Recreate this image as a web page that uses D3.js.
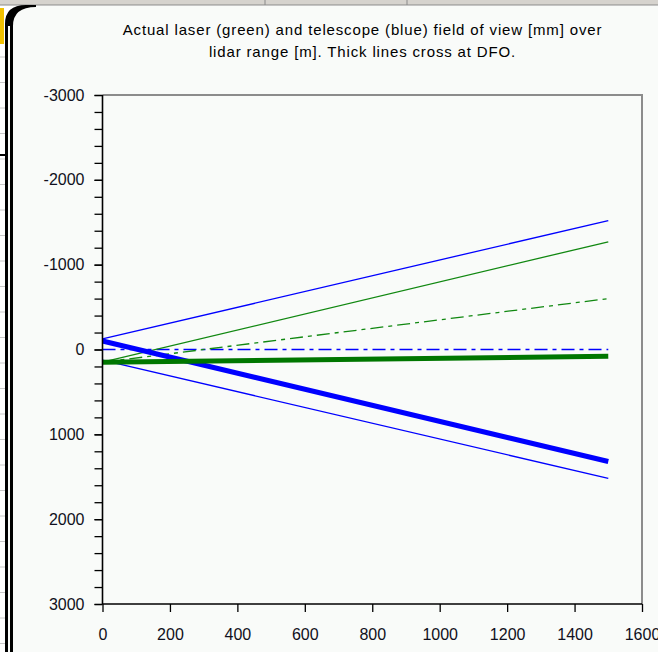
<!DOCTYPE html>
<html>
<head>
<meta charset="utf-8">
<script src="https://cdn.jsdelivr.net/npm/d3@7/dist/d3.min.js"></script>
<style>
  html, body { margin: 0; padding: 0; background: #ffffff; }
  svg { display: block; }
  text { font-family: "Liberation Sans", Arial, sans-serif; }
</style>
</head>
<body>
<svg id="chart" width="658" height="652"></svg>
<script>
// ---- data ----
const titleLines = [
  "Actual laser (green) and telescope (blue) field of view [mm] over",
  "lidar range [m]. Thick lines cross at DFO."
];
const rangeM = [0, 1500];                 // lidar range [m]
const blueUpper   = [-125, -1520];        // telescope FOV edge (thin)
const blueLower   = [125, 1520];          // telescope FOV edge (thin)
const blueCenter  = [0, 0];               // telescope axis (dash-dot)
const blueThick   = [-100, 1320];         // thick blue
const greenUpper  = [150, -1270];         // laser FOV edge (thin)
const greenCenter = [150, -600];          // laser axis (dash-dot)
const greenThick  = [150, 80];            // thick green
const xTicks = [0, 200, 400, 600, 800, 1000, 1200, 1400, 1600];
const yTicks = [-3000, -2000, -1000, 0, 1000, 2000, 3000];
const yMinorStep = 200;

const series = [
  { name: "blueUpper",   values: blueUpper,   color: "#0000ff", width: 1.3, dash: null },
  { name: "blueLower",   values: blueLower,   color: "#0000ff", width: 1.3, dash: null },
  { name: "blueCenter",  values: blueCenter,  color: "#0000ff", width: 1.3, dash: "13,5,4,5" },
  { name: "greenUpper",  values: greenUpper,  color: "#118811", width: 1.3, dash: null },
  { name: "greenCenter", values: greenCenter, color: "#118811", width: 1.3, dash: "13,5,4,5" },
  { name: "blueThick",   values: blueThick,   color: "#0000ff", width: 5,   dash: null },
  { name: "greenThick",  values: greenThick,  color: "#007700", width: 5,   dash: null }
];

// ---- layout ----
const svg = d3.select("#chart");
const W = 658, H = 652;
const plot = { left: 102.5, right: 642, top: 95, bottom: 604 };

// spreadsheet chrome
svg.append("rect").attr("x", 0).attr("y", 0).attr("width", W).attr("height", H).attr("fill", "#ffffff");
svg.append("rect").attr("x", 0).attr("y", 0).attr("width", W).attr("height", 5).attr("fill", "#d6d3ce");
svg.append("line").attr("x1", 0).attr("x2", W).attr("y1", 5).attr("y2", 5).attr("stroke", "#8a8a8a");
[265, 407].forEach(x => svg.append("line").attr("x1", x).attr("x2", x).attr("y1", 0).attr("y2", 5).attr("stroke", "#8a8a8a"));
for (let y = 57; y < H; y += 25.5) {
  svg.append("line").attr("x1", 0).attr("x2", 5).attr("y1", y).attr("y2", y).attr("stroke", "#c8c8c8");
}
svg.append("rect").attr("x", 0).attr("y", 8).attr("width", 4).attr("height", 36).attr("fill", "#f0c000");
svg.append("rect").attr("x", 0).attr("y", 154).attr("width", 6).attr("height", 2).attr("fill", "#000");

// chart object area
svg.append("path")
  .attr("d", `M11,${H} L11,26 Q11,6 31,6 L${W},6 L${W},${H} Z`)
  .attr("fill", "#f9fbf9");
svg.append("path")
  .attr("d", `M5,${H} L5,24 Q5,5 26,5 L36,5 L36,7 Q13,7 13,26 L13,${H} Z`)
  .attr("fill", "#000");
svg.append("rect").attr("x", 8).attr("y", 26).attr("width", 2).attr("height", H - 26).attr("fill", "#f9fbf9");

// title
svg.append("g").selectAll("text").data(titleLines).join("text")
  .attr("x", 362.5)
  .attr("y", (d, i) => 35 + i * 22)
  .attr("text-anchor", "middle")
  .attr("font-size", 15)
  .attr("letter-spacing", 0.85)
  .attr("fill", "#000")
  .text(d => d);

// scales
const x = d3.scaleLinear().domain([0, 1600]).range([plot.left, plot.right]);
const y = d3.scaleLinear().domain([-3000, 3000]).range([plot.top, plot.bottom]);

// plot border (top & right, grey)
svg.append("path")
  .attr("d", `M${plot.left},${plot.top} L${plot.right},${plot.top} L${plot.right},${plot.bottom}`)
  .attr("fill", "none").attr("stroke", "#8c8c8c").attr("stroke-width", 2);

// series
const line = d3.line().x(d => x(d[0])).y(d => y(d[1]));
svg.append("g").selectAll("path").data(series).join("path")
  .attr("d", s => line(rangeM.map((r, i) => [r, s.values[i]])))
  .attr("fill", "none")
  .attr("stroke", s => s.color)
  .attr("stroke-width", s => s.width)
  .attr("stroke-dasharray", s => s.dash)
  .attr("stroke-linecap", "butt");

// y axis (minor ticks)
const minorVals = d3.range(-3000, 3001, yMinorStep);
svg.append("g")
  .attr("transform", `translate(${plot.left},0)`)
  .call(d3.axisLeft(y).tickValues(minorVals).tickSize(8).tickFormat(""))
  .call(g => g.select(".domain").remove())
  .call(g => g.selectAll("line").attr("stroke", "#000").attr("stroke-width", 1.3));

// y axis (major + labels)
const yAxis = svg.append("g")
  .attr("transform", `translate(${plot.left},0)`)
  .call(d3.axisLeft(y).tickValues(yTicks).tickSize(8).tickPadding(10).tickFormat(d3.format("d")));
yAxis.select(".domain").attr("stroke", "#000").attr("stroke-width", 1.6).attr("d", `M0,${plot.top}V${plot.bottom}`);
yAxis.selectAll("line").attr("stroke", "#000").attr("stroke-width", 1.3);
yAxis.selectAll("text")
  .attr("font-size", 16)
  .attr("fill", "#101020")
  .attr("font-family", "'Liberation Sans', Arial, sans-serif")
  .text(d => String(d));

// x axis
const xAxis = svg.append("g")
  .attr("transform", `translate(0,${plot.bottom})`)
  .call(d3.axisBottom(x).tickValues(xTicks).tickSize(8).tickPadding(17).tickFormat(d3.format("d")));
xAxis.select(".domain").attr("stroke", "#000").attr("stroke-width", 1.6).attr("d", `M${plot.left},0H${plot.right}`);
xAxis.selectAll("line").attr("stroke", "#000").attr("stroke-width", 1.3);
xAxis.selectAll("text")
  .attr("font-size", 16)
  .attr("fill", "#101020")
  .attr("font-family", "'Liberation Sans', Arial, sans-serif");
</script>
</body>
</html>
